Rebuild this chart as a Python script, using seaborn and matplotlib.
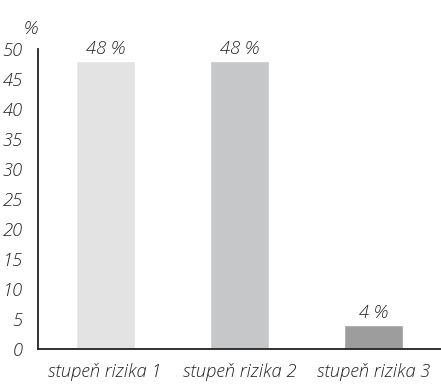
import matplotlib
matplotlib.use("Agg")
import matplotlib.pyplot as plt
import seaborn as sns
import pandas as pd

categories = ["stupeň rizika 1", "stupeň rizika 2", "stupeň rizika 3"]
values = [48, 48, 4]
value_labels = ["48 %", "48 %", "4 %"]
y_ticks = [0, 5, 10, 15, 20, 25, 30, 35, 40, 45, 50]
bar_colors = ["#e3e3e3", "#c6c7c8", "#9d9d9e"]

sns.set_theme(style="white")
plt.rcParams["font.family"] = ["Open Sans", "DejaVu Sans"]

df = pd.DataFrame({"cat": categories, "val": values})

fig = plt.figure(figsize=(4.41, 3.85), dpi=100)
ax = fig.add_axes([0.086, 0.093, 0.914, 0.781])

sns.barplot(data=df, x="cat", y="val", hue="cat", palette=bar_colors,
            width=0.44, legend=False, ax=ax, saturation=1)

ax.set_xlim(-0.5, 2.5)
ax.set_ylim(0, 50)
ax.set_yticks(y_ticks)
ax.set_yticklabels([str(t) for t in y_ticks])

text_kw = dict(fontstyle="italic", fontweight="light", color="#222222", fontsize=13.2)

for i, (v, lab) in enumerate(zip(values, value_labels)):
    ax.annotate(lab, (i, v), xytext=(0, 2), textcoords="offset points",
                ha="center", va="bottom", annotation_clip=False, **text_kw)

for lab in ax.get_yticklabels() + ax.get_xticklabels():
    lab.set_fontstyle("italic")
    lab.set_fontweight("light")
    lab.set_color("#222222")
    lab.set_fontsize(13.2)

ax.set_xticks([-0.5, 0.5, 1.5], minor=True)
ax.tick_params(axis="x", which="major", length=0, pad=10)
ax.tick_params(axis="x", which="minor", length=8, width=1.3, color="#222222", direction="out")
ax.tick_params(axis="y", length=6, width=1.3, color="#222222", direction="out", pad=5)

for side in ["top", "right"]:
    ax.spines[side].set_visible(False)
for side in ["left", "bottom"]:
    ax.spines[side].set_color("#222222")
    ax.spines[side].set_linewidth(1.3)

ax.set_xlabel("")
ax.set_ylabel("")
fig.text(0.07, 0.9, "%", ha="center", va="bottom", **text_kw)

fig.savefig("out.png", dpi=100)
